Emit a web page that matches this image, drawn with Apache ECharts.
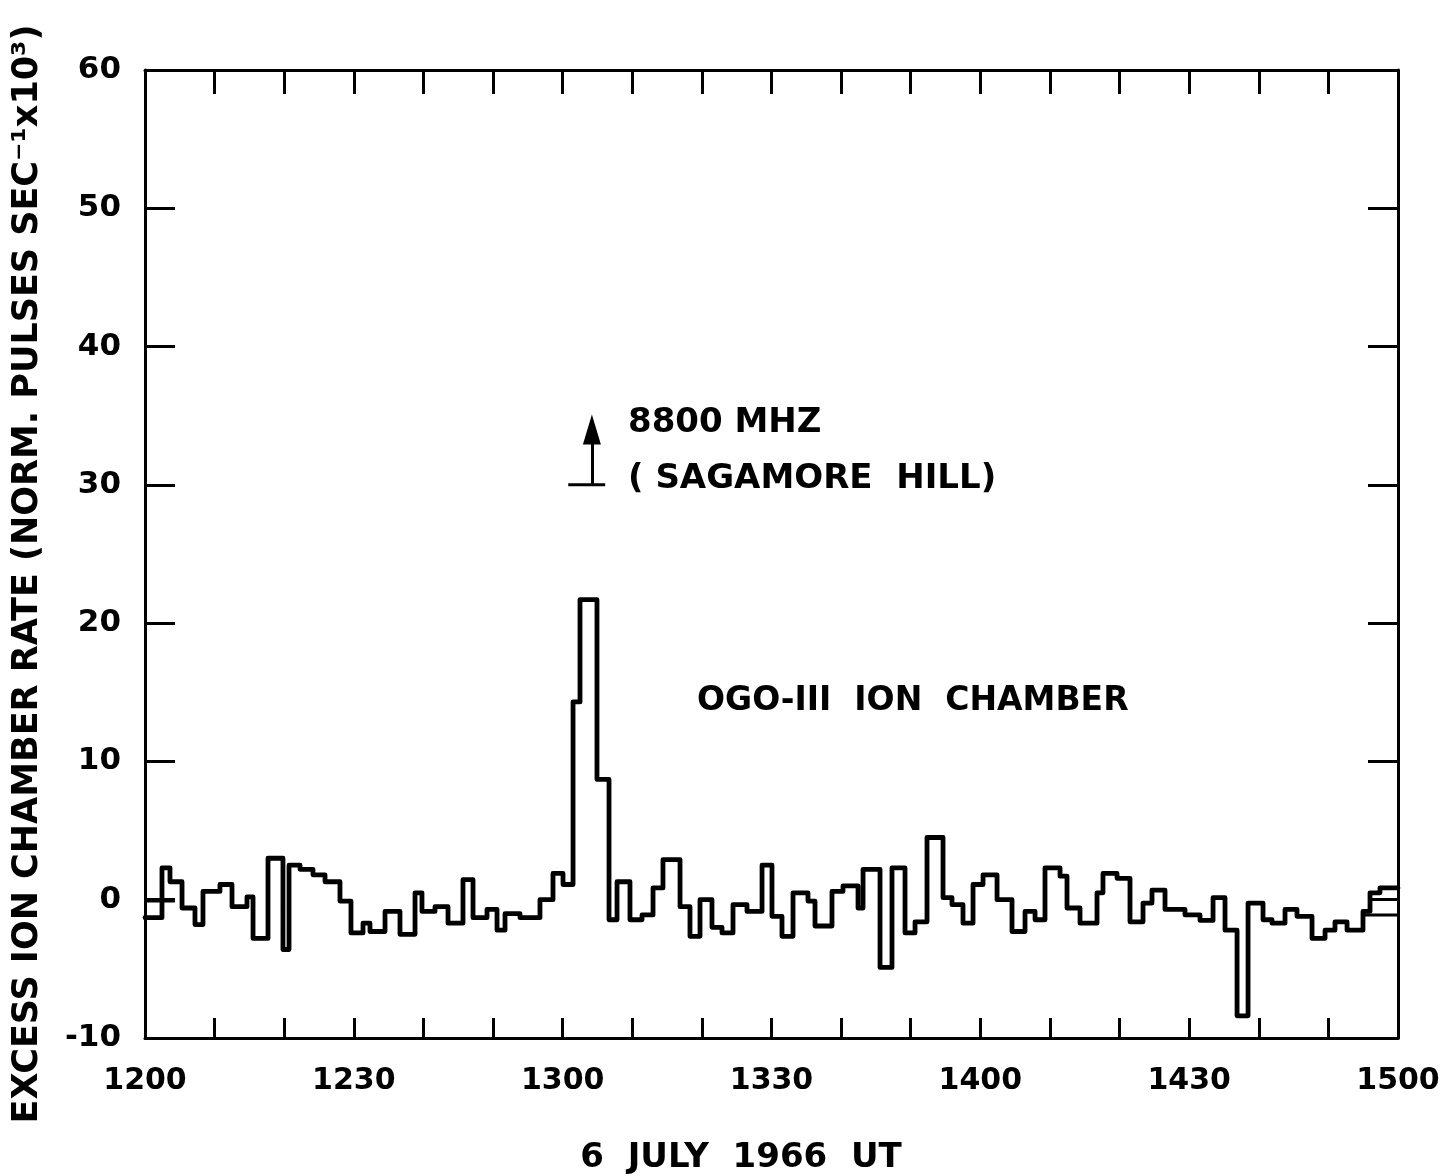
<!DOCTYPE html>
<html>
<head>
<meta charset="utf-8">
<script src="https://cdn.jsdelivr.net/npm/echarts@6/dist/echarts.min.js"></script>
<style>
html,body{margin:0;padding:0;background:#fff;}
#chart{width:1448px;height:1176px;}
</style>
</head>
<body>
<div id="chart"></div>
<script>
// Minutes after 1200 UT, 6 July 1966: bin edges of the step histogram
const binEdges = [0,2.44,3.59,5.32,7.18,8.33,10.77,12.50,14.65,15.52,
  17.67,19.82,20.69,22.27,24.13,25.86,28.01,29.59,31.32,32.32,
  34.48,36.63,38.79,39.79,41.66,43.53,45.68,47.12,49.13,50.57,
  51.72,53.87,56.74,58.61,60.05,61.49,62.49,64.93,66.66,67.81,
  69.67,71.40,72.98,74.41,76.86,78.29,79.73,81.45,82.89,84.47,
  86.48,88.64,90.07,91.51,93.09,95.24,96.25,98.69,100.27,102.43,
  103.15,105.59,107.31,109.18,110.62,112.34,114.64,115.93,117.51,118.95,
  120.39,122.40,124.55,126.42,127.86,129.29,131.45,132.45,134.32,136.76,
  137.62,139.64,141.50,143.37,144.66,146.53,149.40,151.56,153.43,155.15,
  156.88,158.46,160.61,161.90,163.77,165.49,167.65,169.52,170.95,172.68,
  174.97,175.98,177.41,180];
// Excess ion chamber rate (x10^3) in each bin
const binValues = [-1.3,2.3,1.3,-0.6,-1.8,0.6,1.1,-0.5,0.2,-2.8,
  3.0,-3.6,2.5,2.2,1.8,1.3,-0.1,-2.4,-1.7,-2.3,
  -0.85,-2.5,0.5,-0.85,-0.5,-1.7,1.45,-1.3,-0.7,-2.2,
  -1.0,-1.3,0,1.9,1.1,14.3,21.7,8.7,-1.45,1.3,
  -1.45,-1.1,0.85,2.9,-0.5,-2.65,0,-2.0,-2.4,-0.36,
  -0.85,2.5,-1.2,-2.65,0.5,-0.1,-1.9,0.6,1.0,-0.6,
  2.2,-4.9,2.3,-2.4,-1.6,4.5,0.15,-0.36,-1.7,1.1,
  1.8,0,-2.3,-0.85,-1.45,2.3,1.7,-0.6,-1.7,0.5,
  1.9,1.55,-1.6,-0.24,0.7,-0.7,-1.1,-1.5,0.15,-2.2,
  -8.4,-0.24,-1.45,-1.7,-0.7,-1.2,-2.8,-2.2,-1.6,-2.2,
  -0.85,0.5,0.85];
// Short background reference levels at both ends
const leftBaseline = [[0,-0.1],[4.3,-0.1]];
const rightBaseline = [[174.7,-1.1],[180,-1.1]];
// 8800 MHz marker
const markerBase = [[60.8,30],[66.1,30]];
const markerArrow = [[64.2,30],[64.2,34.0]];
// Tick labels
const xTickLabels = ['1200','1230','1300','1330','1400','1430','1500'];
const yTicks = [-10,0,10,20,30,40,50,60];

const stepPts = [];
for (let i = 0; i < binValues.length; i++) {
  stepPts.push([binEdges[i], binValues[i]]);
  stepPts.push([binEdges[i+1], binValues[i]]);
}

const FONT = '"DejaVu Sans", sans-serif';
const chart = echarts.init(document.getElementById('chart'), null, {renderer:'canvas'});
const axisLineStyle = {color:'#000', width:3};
const option = {
  animation:false,
  backgroundColor:'#fff',
  grid:{left:145, right:50, top:70, bottom:138, containLabel:false},
  xAxis:[{
    type:'value', min:0, max:180, interval:10, position:'bottom',
    axisLine:{show:true, onZero:false, lineStyle:axisLineStyle},
    axisTick:{show:true, inside:true, length:20, lineStyle:axisLineStyle},
    axisLabel:{show:true, margin:28, color:'#000', fontFamily:FONT, fontWeight:'bold', fontSize:30,
      showMinLabel:true, showMaxLabel:true,
      formatter:function(v){ return (Math.round(v)%30===0) ? xTickLabels[Math.round(v)/30] : ''; }},
    splitLine:{show:false}
  },{
    type:'value', min:0, max:180, interval:10, position:'top',
    axisLine:{show:true, onZero:false, lineStyle:axisLineStyle},
    axisTick:{show:true, inside:true, length:24, lineStyle:axisLineStyle},
    axisLabel:{show:false}, splitLine:{show:false}
  }],
  yAxis:[{
    type:'value', min:-10, max:60, interval:10, position:'left',
    axisLine:{show:true, onZero:false, lineStyle:axisLineStyle},
    axisTick:{show:true, inside:true, length:30, lineStyle:axisLineStyle},
    axisLabel:{show:true, margin:24, color:'#000', fontFamily:FONT, fontWeight:'bold', fontSize:31,
      formatter:function(v){ return yTicks.indexOf(v)>=0 ? String(v) : ''; }},
    splitLine:{show:false}
  },{
    type:'value', min:-10, max:60, interval:10, position:'right',
    axisLine:{show:true, onZero:false, lineStyle:axisLineStyle},
    axisTick:{show:true, inside:true, length:30, lineStyle:axisLineStyle},
    axisLabel:{show:false}, splitLine:{show:false}
  }],
  series:[{
    type:'line', data:stepPts, showSymbol:false, symbol:'none',
    lineStyle:{color:'#000', width:4.8, join:'round', cap:'round'}, silent:true
  },{
    type:'line', data:leftBaseline, showSymbol:false, symbol:'none',
    lineStyle:{color:'#000', width:3}, silent:true
  },{
    type:'line', data:rightBaseline, showSymbol:false, symbol:'none',
    lineStyle:{color:'#000', width:3}, silent:true
  },{
    type:'line', data:markerBase, showSymbol:false, symbol:'none',
    lineStyle:{color:'#000', width:3}, silent:true,
    markLine:{
      silent:true, symbol:['none','triangle'], symbolSize:[18,30],
      label:{show:false},
      lineStyle:{color:'#000', width:3, type:'solid'},
      data:[[{coord:markerArrow[0]},{coord:markerArrow[1]}]]
    }
  }],
  graphic:[
    {type:'text', left:628, top:406, style:{text:'8800 MHZ', font:'bold 34px "DejaVu Sans"', fill:'#000'}},
    {type:'text', left:628, top:462, style:{text:'( SAGAMORE  HILL)', font:'bold 34px "DejaVu Sans"', fill:'#000'}},
    {type:'text', left:697, top:685, style:{text:'OGO-III  ION  CHAMBER', font:'bold 33px "DejaVu Sans"', fill:'#000'}},
    {type:'text', x:741, y:1158, style:{text:'6  JULY  1966  UT', font:'bold 34px "DejaVu Sans"', fill:'#000', textAlign:'center', textVerticalAlign:'middle'}},
    {type:'text', x:28, y:574, rotation:Math.PI/2,
      style:{text:'EXCESS ION CHAMBER RATE (NORM. PULSES SEC⁻¹x10³)', font:'bold 35px "DejaVu Sans"', fill:'#000', textAlign:'center', textVerticalAlign:'middle'}}
  ]
};
chart.setOption(option);
</script>
</body>
</html>
